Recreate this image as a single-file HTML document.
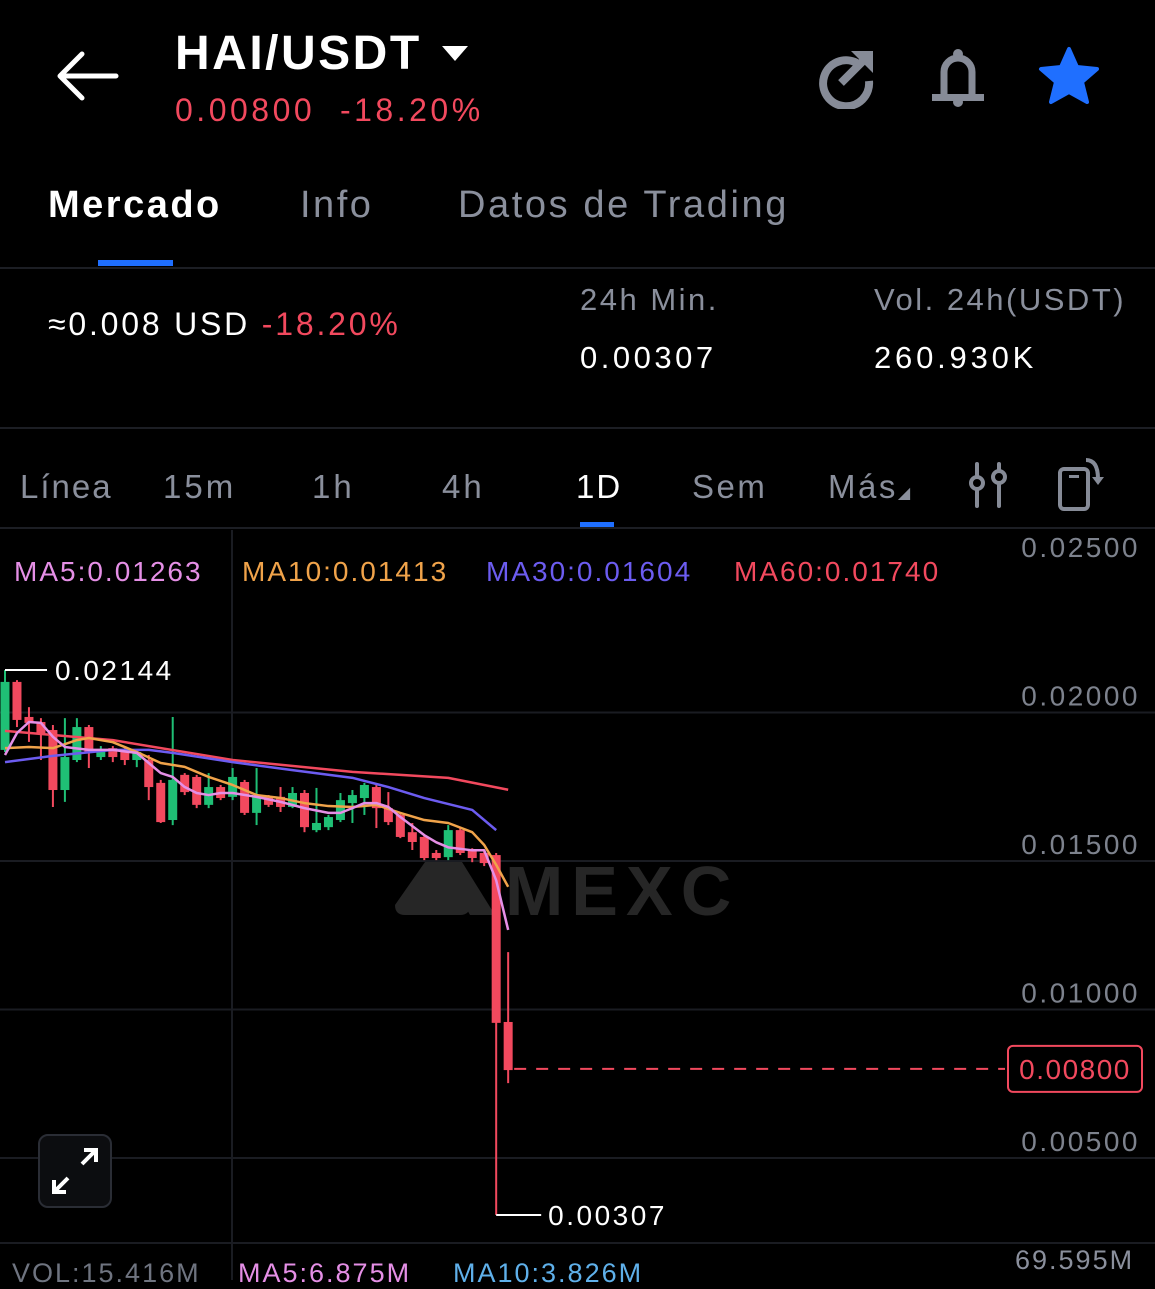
<!DOCTYPE html>
<html><head><meta charset="utf-8">
<style>
html,body{margin:0;padding:0;background:#000;}
body{width:1155px;height:1280px;overflow:hidden;position:relative;font-family:"Liberation Sans",sans-serif;color:#fff;}
.a{position:absolute;white-space:nowrap;}
.g{color:#8a8f9c;}
.r{color:#f2495e;}
</style></head><body>
<svg class="a" style="left:52px;top:48px" width="70" height="56"><path d="M64 28H8M30 6L8 28L30 50" stroke="#fff" stroke-width="5" fill="none" stroke-linecap="round" stroke-linejoin="round"/></svg>
<div class="a" style="left:175px;top:26px;font-size:48px;font-weight:bold;letter-spacing:2.5px">HAI/USDT</div>
<svg class="a" style="left:440px;top:44px" width="30" height="20"><path d="M2 2H28L15 17Z" fill="#fff"/></svg>
<div class="a r" style="left:175px;top:92px;font-size:32px;letter-spacing:3.5px">0.00800&nbsp;&nbsp;-18.20%</div>
<svg class="a" style="left:815px;top:45px" width="64" height="64"><path d="M42 18A23 23 0 1 0 54 36" stroke="#868b97" stroke-width="8" fill="none"/><path d="M26 38L48 16" stroke="#868b97" stroke-width="8"/><path d="M36 6H58V28Z" fill="#868b97"/></svg>
<svg class="a" style="left:930px;top:46px" width="56" height="62"><path d="M14 50V26A14 14 0 0 1 42 26V50" stroke="#868b97" stroke-width="7" fill="none"/><rect x="2" y="48" width="52" height="7" fill="#868b97"/><circle cx="28" cy="8" r="5" fill="#868b97"/><circle cx="28" cy="56" r="5" fill="#868b97"/></svg>
<svg class="a" style="left:1036px;top:45px" width="66" height="62"><path d="M33 4L41 22L61 24L46 37L51 57L33 47L15 57L20 37L5 24L25 22Z" fill="#1f6fff" stroke="#1f6fff" stroke-width="4" stroke-linejoin="round"/></svg>

<div class="a" style="left:48px;top:184px;font-size:38px;font-weight:bold;letter-spacing:2.5px">Mercado</div>
<div class="a" style="left:98px;top:260px;width:75px;height:6px;background:#1f6fff"></div>
<div class="a g" style="left:300px;top:184px;font-size:38px;letter-spacing:2.5px">Info</div>
<div class="a g" style="left:458px;top:184px;font-size:38px;letter-spacing:2.6px">Datos de Trading</div>
<div class="a" style="left:0;top:267px;width:1155px;height:2px;background:#1c1e24"></div>

<div class="a" style="left:48px;top:306px;font-size:32px;letter-spacing:2.8px">≈0.008 USD <span class="r">-18.20%</span></div>
<div class="a g" style="left:580px;top:282px;font-size:31px;letter-spacing:2.5px">24h Min.</div>
<div class="a" style="left:580px;top:340px;font-size:31px;letter-spacing:3.5px">0.00307</div>
<div class="a g" style="left:874px;top:282px;font-size:31px;letter-spacing:2.5px">Vol. 24h(USDT)</div>
<div class="a" style="left:874px;top:340px;font-size:31px;letter-spacing:3.8px">260.930K</div>
<div class="a" style="left:0;top:427px;width:1155px;height:2px;background:#1c1e24"></div>

<div class="a g" style="left:20px;top:468px;font-size:33px;letter-spacing:2px">Línea</div>
<div class="a g" style="left:163px;top:468px;font-size:33px;letter-spacing:3px">15m</div>
<div class="a g" style="left:312px;top:468px;font-size:33px;letter-spacing:3px">1h</div>
<div class="a g" style="left:442px;top:468px;font-size:33px;letter-spacing:3px">4h</div>
<div class="a" style="left:576px;top:468px;font-size:33px;letter-spacing:2px">1D</div>
<div class="a" style="left:580px;top:522px;width:34px;height:5px;background:#1f6fff"></div>
<div class="a g" style="left:692px;top:468px;font-size:33px;letter-spacing:2.5px">Sem</div>
<div class="a g" style="left:828px;top:468px;font-size:33px;letter-spacing:2.5px">Más<span style="font-size:16px">◢</span></div>
<svg class="a" style="left:966px;top:460px" width="44" height="50"><g stroke="#868b97" stroke-width="4" fill="none" stroke-linecap="round"><path d="M11 4V16M11 30V46M33 4V10M33 24V46"/><circle cx="11" cy="23" r="6"/><circle cx="33" cy="17" r="6"/></g></svg>
<svg class="a" style="left:1056px;top:455px" width="50" height="56"><g stroke="#868b97" stroke-width="4" fill="none"><rect x="4" y="14" width="28" height="40" rx="4"/><path d="M30 5Q42 5 42 24"/></g><rect x="13" y="20" width="10" height="3" fill="#868b97"/><path d="M36 22H48L42 30Z" fill="#868b97"/></svg>
<div class="a" style="left:0;top:527px;width:1155px;height:2px;background:#1c1e24"></div>

<svg class="a" id="chart" style="left:0;top:0" width="1155" height="1280"></svg>

<div class="a" style="left:38px;top:1134px;width:70px;height:70px;border:2px solid #2a2d35;border-radius:10px;background:#0c0d10"><svg width="70" height="70"><g stroke="#fff" stroke-width="4" fill="none"><path d="M42 28L56 14M44 14H56V26M28 42L14 56M14 44V56H26"/></g></svg></div>

<div class="a" style="left:12px;top:1258px;font-size:27px;color:#6f7480;letter-spacing:2px">VOL:15.416M</div>
<div class="a" style="left:238px;top:1258px;font-size:27px;color:#e58fe6;letter-spacing:2px">MA5:6.875M</div>
<div class="a" style="left:453px;top:1258px;font-size:27px;color:#5fb0ea;letter-spacing:2px">MA10:3.826M</div>
<div class="a" style="left:1015px;top:1245px;font-size:27px;color:#8a8f9c;letter-spacing:2px">69.595M</div>

<script>
const opens=[0.01874,0.02103,0.01985,0.01968,0.01941,0.01739,0.0184,0.01951,0.0185,0.0188,0.01874,0.0184,0.0184,0.01763,0.01638,0.0179,0.01783,0.01689,0.01749,0.01716,0.01766,0.01662,0.01716,0.01716,0.01682,0.01729,0.01604,0.01614,0.01638,0.01695,0.01712,0.01749,0.01678,0.01655,0.01597,0.01581,0.01527,0.01513,0.01604,0.01537,0.01527,0.0152,0.00958];
const closes=[0.02103,0.01975,0.01965,0.01931,0.01739,0.0185,0.01951,0.01867,0.01874,0.0185,0.0184,0.01867,0.01749,0.01631,0.01773,0.01732,0.01689,0.01749,0.01712,0.01783,0.01662,0.01716,0.01689,0.01682,0.01729,0.01614,0.01628,0.01648,0.01705,0.01722,0.01756,0.01678,0.01631,0.01581,0.01564,0.0151,0.0151,0.01604,0.01527,0.0151,0.01493,0.00955,0.00796];
const highs=[0.02143,0.02109,0.02018,0.01981,0.01958,0.01981,0.01981,0.01958,0.01887,0.01887,0.0188,0.01874,0.01857,0.01773,0.01985,0.01796,0.0179,0.01796,0.01756,0.01813,0.01773,0.01813,0.01722,0.01749,0.01749,0.01739,0.01746,0.01655,0.01729,0.01739,0.01763,0.01756,0.01732,0.01665,0.01628,0.01587,0.01537,0.01621,0.01611,0.01543,0.01537,0.01527,0.01193];
const lows=[0.01867,0.01951,0.01901,0.0184,0.01682,0.01699,0.01833,0.01813,0.0184,0.01833,0.01823,0.01816,0.01705,0.01628,0.01621,0.01722,0.01678,0.01678,0.01705,0.01705,0.01655,0.01621,0.01682,0.01665,0.01678,0.01597,0.01597,0.01604,0.01631,0.01628,0.01655,0.01611,0.01621,0.01577,0.01537,0.01503,0.01503,0.01503,0.0152,0.01496,0.01483,0.00308,0.00752];
const ma5Idx=[0,1,2,3,4,5,7,9,11,12,13,14,15,16,17,18,19,21,23,25,27,28,29,30,31,32,33,35,36,37,39,40,41,42];
const ma5Val=[0.01857,0.01931,0.01968,0.01965,0.01918,0.01884,0.01874,0.01874,0.01864,0.0183,0.01796,0.01783,0.01749,0.01729,0.01722,0.01729,0.01729,0.01716,0.01699,0.01678,0.01662,0.01662,0.01678,0.01695,0.01695,0.01682,0.01648,0.01587,0.01563,0.01546,0.01536,0.01536,0.01435,0.01268];
const ma10Idx=[0,2,4,6,7,9,11,13,15,17,19,21,23,25,27,29,31,33,35,37,39,40,41,42];
const ma10Val=[0.0188,0.01884,0.0188,0.01907,0.01914,0.019,0.01867,0.0183,0.01817,0.01783,0.01756,0.01722,0.01712,0.01695,0.01685,0.01682,0.01689,0.01662,0.01638,0.01628,0.01597,0.01554,0.01487,0.01413];
const ma30Idx=[0,4,9,12,14,19,24,29,32,35,39,41];
const ma30Val=[0.01833,0.01854,0.01874,0.01874,0.01864,0.01833,0.01806,0.0178,0.01749,0.01712,0.01672,0.01604];
const ma60Idx=[0,9,19,29,37,42];
const ma60Val=[0.01938,0.01907,0.0184,0.018,0.0178,0.0174];
const yTicks=[0.025,0.02,0.015,0.01,0.005];
const yTickLabels=["0.02500","0.02000","0.01500","0.01000","0.00500"];
const legendLabels=["MA5:0.01263","MA10:0.01413","MA30:0.01604","MA60:0.01740"];
const lastPrice=0.008, lastPriceLabel="0.00800", maxLabel="0.02144", minLabel="0.00307";

const NS="http://www.w3.org/2000/svg";
const svg=document.getElementById('chart');
const Y=p=>1158-(p-0.005)/0.005*148.5;
const X=i=>5+i*11.98;
function el(t,a,parent){const e=document.createElementNS(NS,t);for(const k in a)e.setAttribute(k,a[k]);(parent||svg).appendChild(e);return e;}

// grid
yTicks.forEach((t,i)=>{
  if(i>0){const l=el('line',{x1:0,x2:1155,y1:Y(t),y2:Y(t),stroke:'#1a1c22','stroke-width':2});
  
  }
  const tx=el('text',{x:1140,y:Y(t)-7,'text-anchor':'end',fill:'#7d828d','font-size':28,'font-family':'Liberation Sans','letter-spacing':2.5});
  tx.textContent=yTickLabels[i];
  
  
});
const vl=el('line',{x1:232,x2:232,y1:530,y2:1280,stroke:'#1a1c22','stroke-width':2});


const sep=el('line',{x1:0,x2:1155,y1:1243,y2:1243,stroke:'#1a1c22','stroke-width':2});



// watermark
const wm=el('g',{fill:'#262626'});


el('path',{d:'M395 905L425 862L448 862L470 905Q470 915 460 915H405Q395 915 395 905Z'},wm);
el('path',{d:'M440 862L462 862L495 915L470 915Z'},wm);
const wt=el('text',{x:505,y:915,'font-size':70,'font-weight':'bold','font-family':'Liberation Sans',fill:'#262626','letter-spacing':8},wm);
wt.textContent='MEXC';

// legend
const legCols=['#e58fe6','#f0a34a','#6c5cf0','#f2495e'];
const legX=[14,242,486,734];
legendLabels.forEach((s,i)=>{
  const t=el('text',{x:legX[i],y:581,fill:legCols[i],'font-size':28,'font-family':'Liberation Sans','letter-spacing':2});
  t.textContent=s;
  
  
});

// candles
opens.forEach((o,i)=>{
  const c=closes[i],up=c>=o,col=up?'#1fbf75':'#f2495e';
  const g=el('g',{});
  
  
  el('line',{x1:X(i),x2:X(i),y1:Y(highs[i]),y2:Y(lows[i]),stroke:col,'stroke-width':2},g);
  const t=Math.min(Y(o),Y(c)),h=Math.max(2,Math.abs(Y(o)-Y(c)));
  el('rect',{x:X(i)-4.5,y:t,width:9,height:h,fill:col},g);
});

// MA lines
function ma(idx,val,col,name){
  const p=el('polyline',{points:idx.map((ix,k)=>X(ix)+','+Y(val[k])).join(' '),fill:'none',stroke:col,'stroke-width':2.5,'stroke-linejoin':'round'});
  
  
}
ma(ma60Idx,ma60Val,'#f2495e','ma60-line');
ma(ma30Idx,ma30Val,'#6c5cf0','ma30-line');
ma(ma10Idx,ma10Val,'#f0a34a','ma10-line');
ma(ma5Idx,ma5Val,'#e58fe6','ma5-line');

// max / min markers
const hiI=highs.indexOf(Math.max(...highs)), loI=lows.indexOf(Math.min(...lows));
const mx=el('g',{});


el('line',{x1:X(hiI),x2:X(hiI)+42,y1:Y(highs[hiI]),y2:Y(highs[hiI]),stroke:'#fff','stroke-width':2},mx);
const mt=el('text',{x:X(hiI)+50,y:Y(highs[hiI])+10,fill:'#fff','font-size':28,'font-family':'Liberation Sans','letter-spacing':2.5},mx);mt.textContent=maxLabel;
const mn=el('g',{});


el('line',{x1:X(loI),x2:X(loI)+45,y1:Y(lows[loI]),y2:Y(lows[loI]),stroke:'#fff','stroke-width':2},mn);
const nt=el('text',{x:X(loI)+52,y:Y(lows[loI])+10,fill:'#fff','font-size':28,'font-family':'Liberation Sans','letter-spacing':2.5},mn);nt.textContent=minLabel;

// last price line
const ll=el('line',{x1:X(opens.length-1)+6,x2:1005,y1:Y(lastPrice),y2:Y(lastPrice),stroke:'#f2495e','stroke-width':2,'stroke-dasharray':'12 10'});


const lb=el('rect',{x:1008,y:Y(lastPrice)-23,width:134,height:46,rx:5,fill:'#000',stroke:'#f2495e','stroke-width':2});


const lt=el('text',{x:1075,y:Y(lastPrice)+10,'text-anchor':'middle',fill:'#f2495e','font-size':28,'font-family':'Liberation Sans','letter-spacing':1.5});
lt.textContent=lastPriceLabel;


</script>
</body></html>
